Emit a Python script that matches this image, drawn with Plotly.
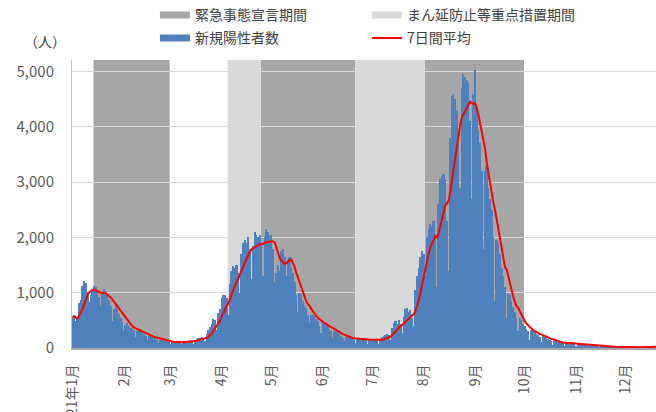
import pandas as pd
import plotly.graph_objects as go

# ---- data (daily new positive cases, 2021) ----
jan_cases = [580, 560, 490, 530, 820, 870, 1130, 1210, 1180, 1010, 840, 950, 1060, 1120, 1100, 1050,
             930, 760, 980, 1060, 1010, 940, 860, 760, 480, 700, 780, 700, 620, 540, 470]
feb_cases = [300, 420, 450, 400, 370, 340, 300, 200, 300, 330, 310, 270, 250, 210, 140, 210,
             230, 210, 190, 170, 150, 90, 140, 150, 140, 130, 120, 100]
mar_cases = [70, 110, 120, 110, 100, 110, 100, 70, 120, 130, 130, 130, 140, 120, 80, 150,
             170, 180, 190, 200, 170, 130, 260, 320, 380, 430, 520, 500, 330, 640, 700]
apr_cases = [900, 950, 960, 900, 600, 1150, 1400, 1480, 1450, 1500, 1350, 1000, 1700, 1900, 1950,
             1900, 2000, 1800, 1250, 1850, 2100, 2050, 2000, 2050, 1850, 1300, 2000, 2150, 2100, 2050]
may_cases = [2050, 1800, 1200, 1350, 1500, 1400, 1750, 1800, 1650, 1300, 1600, 1650, 1450, 1350,
             1200, 950, 650, 1000, 950, 850, 780, 720, 600, 450, 600, 600, 580, 520, 480, 400, 280]
jun_cases = [450, 460, 420, 390, 350, 300, 180, 300, 320, 300, 250, 220, 190, 120, 200, 210,
             200, 180, 170, 150, 90, 170, 180, 170, 160, 170, 150, 80, 160, 170]
jul_cases = [160, 150, 160, 140, 80, 170, 200, 210, 230, 260, 240, 150, 360, 450, 480, 430,
             500, 440, 270, 560, 700, 720, 650, 680, 550, 400, 1050, 1300, 1450, 1650, 1750]
aug_cases = [1700, 1300, 2000, 2150, 2250, 2200, 2300, 2000, 1100, 2600, 3050, 3100, 3150, 3050,
             2300, 1400, 3800, 4550, 4600, 4500, 4300, 3700, 2900, 4700, 4950, 4900, 4850, 4800,
             4100, 2700, 4600]
sep_cases = [5030, 4300, 3950, 3700, 3200, 1800, 3200, 3300, 2900, 2700, 2500, 2000, 850, 1950,
             1900, 1700, 1450, 1300, 1100, 550, 1000, 950, 850, 750, 650, 550, 300, 550, 500, 430]
oct_cases = [400, 350, 300, 150, 330, 310, 290, 260, 240, 200, 100, 220, 200, 180, 170, 150,
             130, 60, 130, 120, 110, 100, 100, 90, 40, 100, 110, 100, 95, 90, 80]
nov_cases = [35, 75, 70, 65, 60, 55, 50, 25, 50, 50, 45, 42, 40, 35, 15, 35, 33, 30, 28, 25,
             22, 10, 20, 22, 20, 18, 17, 15, 8, 15]
dec_cases = [18, 16, 15, 14, 12, 7, 15, 17, 16, 15, 14, 13, 8, 16, 18, 17, 19, 18, 16, 9, 20,
             24, 26, 30, 32, 28, 18, 45, 55, 60, 70]

emergency_periods = [("2021-01-14", "2021-02-28"), ("2021-04-25", "2021-06-20"),
                     ("2021-08-02", "2021-09-30")]
semi_periods = [("2021-04-05", "2021-04-24"), ("2021-06-21", "2021-08-01")]

month_ticks = ["2021-%02d-01" % m for m in range(1, 13)]
month_labels = ["2021年1月", "2月", "3月", "4月", "5月", "6月", "7月", "8月", "9月",
                "10月", "11月", "12月"]
y_ticks = [0, 1000, 2000, 3000, 4000, 5000]

cases = (jan_cases + feb_cases + mar_cases + apr_cases + may_cases + jun_cases +
         jul_cases + aug_cases + sep_cases + oct_cases + nov_cases + dec_cases)
dates = pd.date_range("2021-01-01", periods=len(cases), freq="D")
avg7 = pd.Series(cases).rolling(7, min_periods=1).mean()

# ---- styles ----
FONT = "Noto Sans CJK JP"
DARK = "#a6a6a6"
LIGHT = "#d9d9d9"
BLUE = "#4f81bd"
RED = "#ff0000"
half = pd.Timedelta(hours=12)
x_start = pd.Timestamp("2020-12-31 12:00")
x_end = x_start + pd.Timedelta(days=352.7)

fig = go.Figure()
fig.add_trace(go.Scatter(x=[None], y=[None], mode="lines", line=dict(color=DARK, width=7),
                         name="緊急事態宣言期間", legend="legend"))
fig.add_trace(go.Scatter(x=[None], y=[None], mode="lines", line=dict(color=LIGHT, width=7),
                         name="まん延防止等重点措置期間", legend="legend"))
fig.add_trace(go.Bar(x=dates, y=cases, marker=dict(color=BLUE, line=dict(width=0)),
                     name="新規陽性者数", showlegend=False))
fig.add_trace(go.Scatter(x=[None], y=[None], mode="lines", line=dict(color=BLUE, width=7),
                         name="新規陽性者数", legend="legend2"))
fig.add_trace(go.Scatter(x=dates, y=avg7, mode="lines", line=dict(color=RED, width=2),
                         name="7日間平均", legend="legend2"))

for periods, col in ((emergency_periods, DARK), (semi_periods, LIGHT)):
    for s, e in periods:
        fig.add_shape(type="rect", xref="x", yref="paper",
                      x0=(pd.Timestamp(s) - half).strftime("%Y-%m-%d %H:%M"),
                      x1=(pd.Timestamp(e) + half).strftime("%Y-%m-%d %H:%M"),
                      y0=0, y1=1, fillcolor=col, line_width=0, layer="between")

legend_common = dict(orientation="h", xanchor="left", yanchor="middle",
                     font=dict(family=FONT, size=14, color="#404040"),
                     bgcolor="rgba(0,0,0,0)", entrywidth=167, itemwidth=30,
                     traceorder="normal")
fig.update_layout(
    width=656, height=412,
    margin=dict(l=72, r=0, t=60, b=64, autoexpand=False),
    paper_bgcolor="white", plot_bgcolor="white",
    font=dict(family=FONT, size=14, color="#595959"),
    bargap=0,
    legend=dict(x=0.142, y=1.155, **legend_common),
    legend2=dict(x=0.142, y=1.075, **legend_common),
    xaxis=dict(type="date", range=[x_start, x_end], tickvals=month_ticks, ticktext=month_labels,
               tickangle=-90, showgrid=False, showline=True, linecolor="#a6a6a6", linewidth=2,
               ticks="outside", ticklen=9, tickcolor="rgba(0,0,0,0)",
               tickfont=dict(size=14, color="#595959"), zeroline=False, automargin=False),
    yaxis=dict(range=[0, 5210], tickvals=y_ticks, tickformat=",", showgrid=True,
               gridcolor="#d9d9d9", gridwidth=1, showline=True, linecolor="#bfbfbf",
               linewidth=1, zeroline=False, ticks="outside", ticklen=14,
               tickcolor="rgba(0,0,0,0)", automargin=False,
               tickfont=dict(size=15, color="#595959")),
    annotations=[dict(text="（人）", x=-0.046, y=1.065, xref="paper", yref="paper",
                      xanchor="center", yanchor="middle", showarrow=False,
                      font=dict(family=FONT, size=14, color="#404040"))],
    showlegend=True,
)

fig.write_html("out.html", config={"displayModeBar": False},
               post_script="document.body.style.margin='0';document.body.style.overflow='hidden';")
